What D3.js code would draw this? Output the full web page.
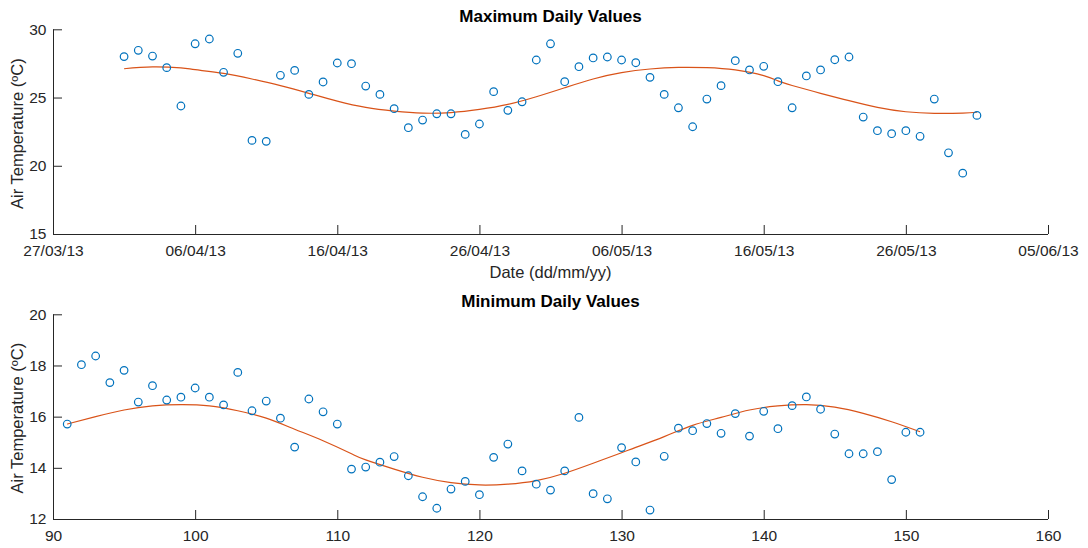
<!DOCTYPE html>
<html>
<head>
<meta charset="utf-8">
<script src="https://cdn.jsdelivr.net/npm/d3@7"></script>
<style>
  html, body { margin: 0; padding: 0; background: #ffffff; }
  svg { display: block; font-family: Arial, "Liberation Sans", Helvetica, sans-serif; }
</style>
</head>
<body>
<svg id="chart" width="1088" height="548"></svg>
<script>
// ---------- DATA ----------
const dayOfYear = [91,92,93,94,95,96,97,98,99,100,101,102,103,104,105,106,107,108,109,110,
  111,112,113,114,115,116,117,118,119,120,121,122,123,124,125,126,127,128,129,130,
  131,132,133,134,135,136,137,138,139,140,141,142,143,144,145,146,147,148,149,150,151];

const maxTemp = [28.0,28.46,28.04,27.19,24.38,28.94,29.29,26.85,28.24,21.86,
  21.79,26.63,26.99,25.23,26.14,27.53,27.48,25.84,25.23,24.18,
  22.79,23.35,23.81,23.81,22.30,23.06,25.43,24.06,24.69,27.75,
  28.94,26.16,27.26,27.90,27.97,27.75,27.55,26.48,25.23,24.25,
  22.86,24.89,25.87,27.70,27.02,27.29,26.16,24.25,26.58,27.02,
  27.77,27.97,23.57,22.57,22.35,22.57,22.16,24.89,20.95,19.46,23.69];

const minTemp = [15.71,18.03,18.37,17.33,17.81,16.57,17.21,16.65,16.76,17.12,
  16.76,16.46,17.73,16.23,16.61,15.94,14.81,16.69,16.19,15.71,
  13.95,14.03,14.22,14.44,13.69,12.87,12.42,13.17,13.47,12.95,
  14.41,14.93,13.88,13.36,13.13,13.88,15.97,12.99,12.79,14.79,
  14.23,12.35,14.45,15.55,15.45,15.73,15.35,16.12,15.24,16.21,
  15.53,16.43,16.77,16.29,15.32,14.55,14.55,14.63,13.54,15.39,15.39];

// fitted curves
const fitMaxDays = [91,93,95,96,98,100,102,104,106,108,110,112,114,116,118,120,122,124,126,128,130,132,134,136,137,138,140,142,144,146,148,150,151];
const fitMaxVals = [27.11,27.24,27.17,27.04,26.77,26.36,25.87,25.31,24.74,24.28,24.01,23.86,23.90,24.13,24.50,25.06,25.72,26.36,26.82,27.09,27.21,27.19,27.02,26.60,26.22,25.88,25.31,24.77,24.28,23.96,23.84,23.86,23.92];

const fitMinDays = [91,93,95,97,99,101,103,105,107,109,111,112,114,116,118,120,122,124,126,128,130,131,133,135,137,139,141,143,145,147,149,151];
const fitMinVals = [15.71,16.00,16.26,16.42,16.47,16.42,16.23,15.94,15.51,15.06,14.55,14.31,13.95,13.63,13.42,13.33,13.36,13.50,13.79,14.18,14.59,14.80,15.22,15.66,15.97,16.26,16.42,16.47,16.37,16.13,15.80,15.41];

const dateTickLabels = ["27/03/13","06/04/13","16/04/13","26/04/13","06/05/13","16/05/13","26/05/13","05/06/13"];
const maxYTicks = [15,20,25,30];
const minYTicks = [12,14,16,18,20];
const doyTicks = [90,100,110,120,130,140,150,160];

const titles = ["Maximum Daily Values", "Minimum Daily Values"];
const yLabel = "Air Temperature (ºC)";
const xLabelTop = "Date (dd/mm/yy)";

// ---------- STYLE ----------
const axisColor = "#262626";
const markerColor = "#0072BD";
const lineColor = "#D95319";
const tickFont = 15.5;
const labelFont = 16.5;
const titleFont = 17;

const svg = d3.select("#chart");
const left = 53, right = 1048;

const parseDate = d3.utcParse("%d/%m/%y");
const doyToDate = d => new Date(Date.UTC(2013, 0, d));

function styleAxis(g) {
  g.selectAll(".domain").attr("stroke", axisColor).attr("stroke-width", 1);
  g.selectAll(".tick line").attr("stroke", axisColor).attr("stroke-width", 1);
  g.selectAll(".tick text").attr("fill", axisColor).style("font-size", tickFont + "px");
}

function drawAxes(x, y, top, bottom, xTickVals, xFmt, yTickVals) {
  const gx = svg.append("g").attr("transform", `translate(0,${bottom})`)
    .call(d3.axisBottom(x).tickValues(xTickVals).tickFormat(xFmt).tickSizeInner(-9).tickSizeOuter(0).tickPadding(11));
  styleAxis(gx);
  const gy = svg.append("g").attr("transform", `translate(${left},0)`)
    .call(d3.axisLeft(y).tickValues(yTickVals).tickSizeInner(-9).tickSizeOuter(0).tickPadding(6.5));
  styleAxis(gy);
  gy.select(".domain").attr("d", `M0.5,${top}V${bottom}`);
  gx.select(".domain").attr("d", `M${left},0.5H${right}`);
}

// ---------- TOP PANEL ----------
{
  const top = 29.3, bottom = 234;
  const x = d3.scaleUtc().domain([parseDate(dateTickLabels[0]), parseDate(dateTickLabels[dateTickLabels.length-1])]).range([left, right]);
  const y = d3.scaleLinear().domain([15, 30]).range([bottom, top]);
  drawAxes(x, y, top, bottom, dateTickLabels.map(parseDate), d3.utcFormat("%d/%m/%y"), maxYTicks);

  const line = d3.line().x(d => x(doyToDate(d[0]))).y(d => y(d[1])).curve(d3.curveNatural);
  svg.append("path").datum(fitMaxDays.map((d,i) => [d, fitMaxVals[i]]))
    .attr("d", line).attr("fill", "none").attr("stroke", lineColor).attr("stroke-width", 1.2);

  svg.append("g").selectAll("circle").data(dayOfYear.map((d,i) => [d, maxTemp[i]])).join("circle")
    .attr("cx", d => x(doyToDate(d[0]))).attr("cy", d => y(d[1])).attr("r", 3.8)
    .attr("fill", "none").attr("stroke", markerColor).attr("stroke-width", 1.2);

  svg.append("text").attr("x", (left+right)/2).attr("y", 22.3).attr("text-anchor", "middle")
    .style("font-size", titleFont + "px").style("font-weight", "bold").attr("fill", "#000").text(titles[0]);
  svg.append("text").attr("x", (left+right)/2).attr("y", 277.5).attr("text-anchor", "middle")
    .style("font-size", labelFont + "px").attr("fill", axisColor).text(xLabelTop);
  svg.append("text").attr("transform", `translate(22.5,${(top+bottom)/2+2}) rotate(-90)`).attr("text-anchor", "middle")
    .style("font-size", labelFont + "px").attr("fill", axisColor).text(yLabel);
}

// ---------- BOTTOM PANEL ----------
{
  const top = 314.3, bottom = 519;
  const x = d3.scaleLinear().domain([90, 160]).range([left, right]);
  const y = d3.scaleLinear().domain([12, 20]).range([bottom, top]);
  drawAxes(x, y, top, bottom, doyTicks, d3.format("d"), minYTicks);

  const line = d3.line().x(d => x(d[0])).y(d => y(d[1])).curve(d3.curveNatural);
  svg.append("path").datum(fitMinDays.map((d,i) => [d, fitMinVals[i]]))
    .attr("d", line).attr("fill", "none").attr("stroke", lineColor).attr("stroke-width", 1.2);

  svg.append("g").selectAll("circle").data(dayOfYear.map((d,i) => [d, minTemp[i]])).join("circle")
    .attr("cx", d => x(d[0])).attr("cy", d => y(d[1])).attr("r", 3.8)
    .attr("fill", "none").attr("stroke", markerColor).attr("stroke-width", 1.2);

  svg.append("text").attr("x", (left+right)/2).attr("y", 307).attr("text-anchor", "middle")
    .style("font-size", titleFont + "px").style("font-weight", "bold").attr("fill", "#000").text(titles[1]);
  svg.append("text").attr("transform", `translate(22.5,${(top+bottom)/2+1.5}) rotate(-90)`).attr("text-anchor", "middle")
    .style("font-size", labelFont + "px").attr("fill", axisColor).text(yLabel);
}
</script>
</body>
</html>
